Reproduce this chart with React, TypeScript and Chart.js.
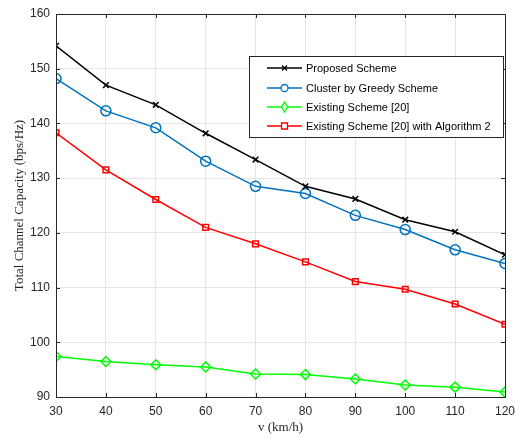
import React, { useEffect, useRef } from "react";
import { Chart, registerables } from "chart.js";

Chart.register(...registerables);

const speeds = [30, 40, 50, 60, 70, 80, 90, 100, 110, 120];
const proposed = [154.2, 147.0, 143.4, 138.2, 133.4, 128.5, 126.2, 122.4, 120.2, 116.0];
const greedy = [148.2, 142.3, 139.2, 133.1, 128.5, 127.2, 123.2, 120.6, 116.9, 114.4];
const existing = [97.4, 96.5, 95.9, 95.5, 94.2, 94.1, 93.3, 92.2, 91.8, 90.9];
const existingAlg = [138.3, 131.5, 126.1, 121.0, 118.0, 114.7, 111.1, 109.7, 107.0, 103.3];
const seriesNames = [
  "Proposed Scheme",
  "Cluster by Greedy Scheme",
  "Existing Scheme [20]",
  "Existing Scheme [20] with Algorithm 2",
];
const yTicks = [90, 100, 110, 120, 130, 140, 150, 160];

const AXIS = "#262626";

const frameAndLegend = {
  id: "frameAndLegend",
  afterDraw(chart: any) {
    const { ctx, chartArea } = chart;
    const { left, right, top, bottom } = chartArea;
    const xs = chart.scales.x;
    const ys = chart.scales.y;
    ctx.save();
    ctx.strokeStyle = AXIS;
    ctx.lineWidth = 1;
    ctx.beginPath();
    speeds.forEach((v) => {
      const x = Math.round(xs.getPixelForValue(v)) + 0.5;
      ctx.moveTo(x, bottom);
      ctx.lineTo(x, bottom - 4);
      ctx.moveTo(x, top);
      ctx.lineTo(x, top + 4);
    });
    yTicks.forEach((v) => {
      const y = Math.round(ys.getPixelForValue(v)) + 0.5;
      ctx.moveTo(left, y);
      ctx.lineTo(left + 4, y);
      ctx.moveTo(right, y);
      ctx.lineTo(right - 4, y);
    });
    ctx.stroke();
    ctx.strokeStyle = AXIS;
    ctx.lineWidth = 1;
    ctx.strokeRect(Math.round(left) + 0.5, Math.round(top) + 0.5, Math.round(right - left), Math.round(bottom - top));

    const bx = 249, by = 56, bw = 254, bh = 81;
    ctx.fillStyle = "#ffffff";
    ctx.fillRect(bx, by, bw, bh);
    ctx.strokeStyle = AXIS;
    ctx.lineWidth = 1;
    ctx.strokeRect(bx + 0.5, by + 0.5, bw, bh);
    const rows = [68, 88, 107, 126];
    ctx.font = "11px 'Liberation Sans', Arial, sans-serif";
    ctx.textBaseline = "middle";
    chart.data.datasets.forEach((ds: any, i: number) => {
      const y = rows[i];
      ctx.strokeStyle = ds.borderColor;
      ctx.lineWidth = 1.5;
      ctx.beginPath();
      ctx.moveTo(267, y);
      ctx.lineTo(302, y);
      ctx.stroke();
      const cx = 284.5;
      ctx.lineWidth = 1.3;
      ctx.beginPath();
      const st = ds.pointStyle;
      if (st === "crossRot") {
        ctx.moveTo(cx - 2.5, y - 2.5); ctx.lineTo(cx + 2.5, y + 2.5);
        ctx.moveTo(cx - 2.5, y + 2.5); ctx.lineTo(cx + 2.5, y - 2.5);
        ctx.stroke();
      } else if (st === "circle") {
        ctx.fillStyle = "#fff";
        ctx.arc(cx, y, 3.5, 0, Math.PI * 2);
        ctx.fill();
        ctx.stroke();
      } else if (st === "rectRot") {
        ctx.fillStyle = "#fff";
        ctx.moveTo(cx, y - 5); ctx.lineTo(cx + 3, y); ctx.lineTo(cx, y + 5); ctx.lineTo(cx - 3, y); ctx.closePath();
        ctx.fill();
        ctx.stroke();
      } else {
        ctx.fillStyle = "#fff";
        ctx.rect(cx - 3, y - 3, 6, 6);
        ctx.fill();
        ctx.stroke();
      }
      ctx.fillStyle = "#000";
      ctx.fillText(ds.label, 306, y + 0.5);
    });
    ctx.restore();
  },
};

export default function App() {
  const ref = useRef<HTMLCanvasElement>(null);
  useEffect(() => {
    if (!ref.current) return;
    const mk = (label: string, data: number[], color: string, style: string, r: number) => ({
      label,
      data,
      borderColor: color,
      backgroundColor: "transparent",
      borderWidth: 1.5,
      pointStyle: style,
      pointRadius: r,
      pointBorderWidth: 1.5,
      pointBorderColor: color,
      pointBackgroundColor: "transparent",
      tension: 0,
    });
    const chart = new Chart(ref.current, {
      type: "line",
      data: {
        labels: speeds,
        datasets: [
          mk(seriesNames[0], proposed, "#000000", "crossRot", 4),
          mk(seriesNames[1], greedy, "#0072BD", "circle", 5),
          mk(seriesNames[2], existing, "#00FF00", "rectRot", 5),
          mk(seriesNames[3], existingAlg, "#FF0000", "rect", 4),
        ] as any,
      },
      options: {
        responsive: false,
        animation: false,
        layout: { padding: { top: 14, right: 11, left: 0, bottom: 0 } },
        plugins: { legend: { display: false }, tooltip: { enabled: false } },
        scales: {
          x: {
            type: "linear",
            min: 30,
            max: 120,
            afterBuildTicks: (s: any) => {
              s.ticks = speeds.map((v) => ({ value: v }));
            },
            afterFit: (s: any) => {
              s.height = 41;
              s.paddingLeft = 0;
              s.paddingRight = 0;
            },
            grid: { color: "#e5e5e5", drawTicks: false, lineWidth: 1 },
            border: { display: false },
            ticks: {
              color: AXIS,
              padding: 7,
              font: { family: "'Liberation Sans', Arial, sans-serif", size: 12 },
              maxRotation: 0,
            },
            title: {
              display: true,
              text: "v (km/h)",
              color: AXIS,
              font: { family: "'Liberation Serif', 'Times New Roman', serif", size: 13 },
              padding: { top: 0, bottom: 3 },
            },
          },
          y: {
            min: 90,
            max: 160,
            afterBuildTicks: (s: any) => {
              s.ticks = yTicks.map((v) => ({ value: v }));
            },
            afterFit: (s: any) => {
              s.width = 56;
              s.paddingTop = 0;
              s.paddingBottom = 0;
            },
            grid: { color: "#e5e5e5", drawTicks: false, lineWidth: 1 },
            border: { display: false },
            ticks: {
              color: AXIS,
              padding: 6,
              font: { family: "'Liberation Sans', Arial, sans-serif", size: 12 },
            },
            title: {
              display: true,
              text: "Total Channel Capacity (bps/Hz)",
              color: AXIS,
              font: { family: "'Liberation Serif', 'Times New Roman', serif", size: 13 },
              padding: { top: 12, bottom: 0 },
            },
          },
        },
      },
      plugins: [frameAndLegend],
    } as any);
    return () => chart.destroy();
  }, []);
  return (
    <div style={{ position: "fixed", left: 0, top: 0, width: 516, height: 438, background: "#fff" }}>
      <canvas ref={ref} width={516} height={438} />
    </div>
  );
}
